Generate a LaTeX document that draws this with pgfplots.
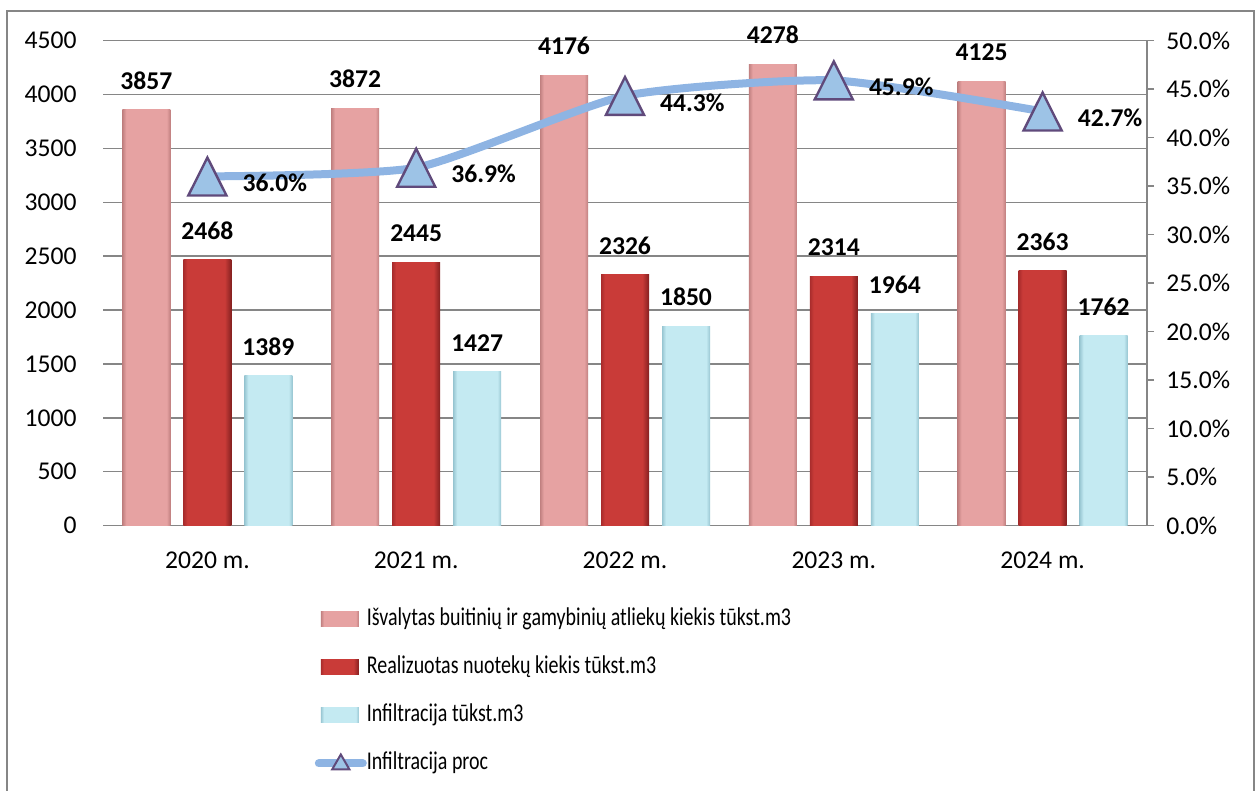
\documentclass[border=0pt]{standalone}
\usepackage{pgfplots}
\pgfplotsset{compat=1.18}
\usepackage{fontspec}
\setmainfont{Carlito}
\newfontfamily\legfont{Carlito}[FakeStretch=0.78]
\definecolor{gridc}{HTML}{868686}
\definecolor{pinkA}{HTML}{E6A2A2}
\definecolor{pinkE}{HTML}{C08080}
\definecolor{redA}{HTML}{C93B38}
\definecolor{redL}{HTML}{A82C2C}
\definecolor{redE}{HTML}{842020}
\definecolor{cyanA}{HTML}{C4EAF2}
\definecolor{cyanE}{HTML}{98C6D2}
\definecolor{lineC}{HTML}{8EB4E3}
\definecolor{markF}{HTML}{9DC3E6}
\definecolor{markE}{HTML}{604A7B}
\pgfdeclarehorizontalshading{pinkshade}{100bp}{color(0bp)=(pinkE); color(25bp)=(pinkE); color(29bp)=(pinkA); color(71bp)=(pinkA); color(75bp)=(pinkE); color(100bp)=(pinkE)}
\pgfdeclarehorizontalshading{redshade}{100bp}{color(0bp)=(redL); color(25bp)=(redL); color(29bp)=(redA); color(68bp)=(redA); color(75bp)=(redE); color(100bp)=(redE)}
\pgfdeclarehorizontalshading{cyanshade}{100bp}{color(0bp)=(cyanE); color(25bp)=(cyanE); color(29bp)=(cyanA); color(71bp)=(cyanA); color(75bp)=(cyanE); color(100bp)=(cyanE)}
\pgfplotsset{/pgf/number format/1000 sep={}, /pgf/number format/assume math mode=true}
\tikzset{
  pinkbar/.style={shading=pinkshade, draw=none},
  redbar/.style={shading=redshade, draw=none},
  cyanbar/.style={shading=cyanshade, draw=none},
}
\pgfplotsset{
  pb/.style={pinkbar, bar shift=-30.5pt},
  rb/.style={redbar, bar shift=0pt},
  cb/.style={cyanbar, bar shift=30.5pt},
}
\begin{document}
\fontsize{12.8}{15.4}\selectfont
\begin{tikzpicture}
\useasboundingbox (0,0) rectangle (629.5pt,395.5pt);
\draw[gridc, line width=0.75pt] (3.5pt,-5pt) rectangle (627pt,390pt);
\begin{axis}[
  at={(51.5pt,132.7pt)}, anchor=south west, scale only axis,
  width=522pt, height=242.5pt,
  xmin=-0.5, xmax=4.5, ymin=0, ymax=4500, ytick distance=500,
  xtick={0,1,2,3,4}, xticklabels={2020 m.,2021 m.,2022 m.,2023 m.,2024 m.},
  axis x line*=bottom, axis y line*=left,
  x axis line style={draw=none}, y axis line style={draw=none},
  major tick length=0pt,
  ymajorgrids, grid style={gridc, line width=0.75pt},
  ybar, bar width=24pt,
  yticklabel style={inner sep=0pt, xshift=-13pt},
  xticklabel style={inner sep=0pt, yshift=-13pt},
  nodes near coords,
  every node near coord/.append style={font=\bfseries, inner sep=0pt, yshift=10pt, anchor=south, text=black},
]
% Isvalytas buitiniu ir gamybiniu atlieku kiekis
\addplot[pb] coordinates {(0,3857)};
\addplot[pb] coordinates {(1,3872)};
\addplot[pb] coordinates {(2,4176)};
\addplot[pb] coordinates {(3,4278)};
\addplot[pb] coordinates {(4,4125)};
% Realizuotas nuoteku kiekis
\addplot[rb] coordinates {(0,2468)};
\addplot[rb] coordinates {(1,2445)};
\addplot[rb] coordinates {(2,2326)};
\addplot[rb] coordinates {(3,2314)};
\addplot[rb] coordinates {(4,2363)};
% Infiltracija
\addplot[cb] coordinates {(0,1389)};
\addplot[cb] coordinates {(1,1427)};
\addplot[cb] coordinates {(2,1850)};
\addplot[cb] coordinates {(3,1964)};
\addplot[cb] coordinates {(4,1762)};
\end{axis}
\begin{axis}[
  at={(51.5pt,132.7pt)}, anchor=south west, scale only axis,
  width=522pt, height=242.5pt,
  xmin=-0.5, xmax=4.5, ymin=0, ymax=50, ytick distance=5,
  axis y line*=right, axis x line=none,
  y axis line style={gridc, line width=0.75pt},
  ytick style={gridc, line width=0.75pt}, tick align=outside, major tick length=3.5pt,
  yticklabel={\pgfmathprintnumber[fixed,fixed zerofill,precision=1]{\tick}\%},
  yticklabel style={inner sep=0pt, xshift=6pt},
  legend cell align=left,
  legend style={at={(0.2025,-0.168)}, anchor=north west, draw=none, fill=none,
    inner sep=0pt, row sep=12pt, font=\legfont,
    nodes={inner sep=0pt, text height=9pt, text depth=3pt}},
]
\addlegendimage{legend image code/.code={\path[pinkbar] (0pt,-3.75pt) rectangle (19pt,3.75pt);}}
\addlegendentry{Išvalytas buitinių ir gamybinių atliekų kiekis tūkst.m3}
\addlegendimage{legend image code/.code={\path[redbar] (0pt,-3.75pt) rectangle (19pt,3.75pt);}}
\addlegendentry{Realizuotas nuotekų kiekis tūkst.m3}
\addlegendimage{legend image code/.code={\path[cyanbar] (0pt,-3.75pt) rectangle (19pt,3.75pt);}}
\addlegendentry{Infiltracija tūkst.m3}
\addplot[lineC, line width=4pt, smooth, tension=0.35, mark=triangle*, mark size=11pt,
  mark options={fill=markF, draw=markE, line width=1.2pt, yshift=-3.2pt, yscale=1.15},
  legend image code/.code={
    \draw[lineC, line width=4pt, line cap=round] (-1pt,0pt) -- (21pt,0pt);
    \path plot[mark=triangle*, mark size=5pt, mark options={fill=markF, draw=markE, line width=1pt}] coordinates {(10pt,-0.5pt)};},
  nodes near coords={\pgfmathprintnumber[fixed,fixed zerofill,precision=1]{\pgfplotspointmeta}\%},
  every node near coord/.append style={font=\bfseries, anchor=west, xshift=17pt, inner sep=0pt, text=black},
] coordinates {(0,36.0) (1,36.9) (2,44.3) (3,45.9) (4,42.7)};
\addlegendentry{Infiltracija proc}
\end{axis}
\end{tikzpicture}
\end{document}
